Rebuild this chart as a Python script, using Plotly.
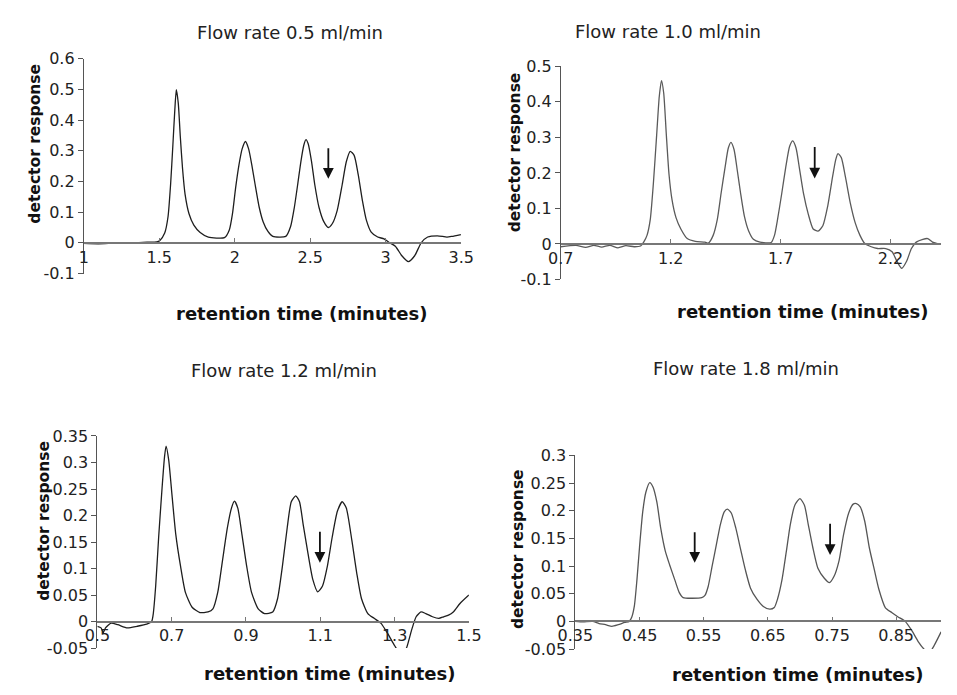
import plotly.graph_objects as go

# ---------------- data ----------------
titles = ["Flow rate 0.5 ml/min", "Flow rate 1.0 ml/min", "Flow rate 1.2 ml/min", "Flow rate 1.8 ml/min"]

t1 = [1.0, 1.098, 1.205, 1.312, 1.419, 1.483, 1.504, 1.536, 1.558, 1.575, 1.590, 1.603, 1.613, 1.626, 1.639,
      1.654, 1.671, 1.697, 1.729, 1.771, 1.825, 1.932, 1.964, 1.985, 2.006, 2.028, 2.049, 2.071, 2.092, 2.113,
      2.135, 2.162, 2.188, 2.220, 2.252, 2.338, 2.370, 2.395, 2.417, 2.438, 2.457, 2.472, 2.487, 2.509, 2.530,
      2.558, 2.590, 2.620, 2.647, 2.679, 2.712, 2.739, 2.765, 2.791, 2.818, 2.846, 2.872, 2.904, 2.947, 2.989,
      3.021, 3.064, 3.107, 3.150, 3.192, 3.235, 3.278, 3.342, 3.406, 3.438, 3.498]
r1 = [-0.002, -0.003, -0.001, 0.0, 0.002, 0.003, 0.008, 0.032, 0.085, 0.19, 0.317, 0.433, 0.499, 0.454, 0.349,
      0.243, 0.158, 0.095, 0.058, 0.034, 0.019, 0.017, 0.042, 0.095, 0.18, 0.254, 0.306, 0.33, 0.306, 0.254,
      0.19, 0.116, 0.069, 0.037, 0.021, 0.021, 0.053, 0.116, 0.19, 0.264, 0.317, 0.336, 0.322, 0.264, 0.19,
      0.116, 0.069, 0.05, 0.063, 0.106, 0.19, 0.264, 0.298, 0.285, 0.222, 0.137, 0.074, 0.035, 0.019, 0.013,
      0.002, -0.011, -0.042, -0.061, -0.042, 0.0, 0.019, 0.023, 0.019, 0.021, 0.027]

t2 = [0.7, 0.769, 0.813, 0.850, 0.886, 0.923, 0.960, 0.996, 1.033, 1.063, 1.077, 1.092, 1.107, 1.121, 1.136,
      1.148, 1.158, 1.168, 1.180, 1.192, 1.206, 1.224, 1.246, 1.275, 1.312, 1.356, 1.371, 1.393, 1.412, 1.429,
      1.447, 1.462, 1.474, 1.488, 1.503, 1.518, 1.535, 1.554, 1.576, 1.606, 1.657, 1.672, 1.686, 1.705, 1.723,
      1.741, 1.755, 1.770, 1.785, 1.804, 1.826, 1.848, 1.870, 1.892, 1.914, 1.936, 1.951, 1.961, 1.976, 1.995,
      2.017, 2.039, 2.061, 2.083, 2.112, 2.141, 2.178, 2.207, 2.229, 2.251, 2.273, 2.295, 2.317, 2.347, 2.369,
      2.391, 2.413, 2.430]
r2 = [-0.008, -0.004, -0.010, -0.004, -0.009, -0.004, -0.011, -0.005, -0.008, -0.006, 0.005, 0.024, 0.069, 0.17,
      0.307, 0.416, 0.46, 0.425, 0.307, 0.197, 0.124, 0.074, 0.042, 0.015, 0.007, 0.005, 0.002, 0.024, 0.069,
      0.142, 0.215, 0.27, 0.286, 0.266, 0.206, 0.142, 0.078, 0.037, 0.013, 0.005, 0.004, 0.024, 0.069, 0.142,
      0.215, 0.275, 0.29, 0.27, 0.215, 0.142, 0.083, 0.042, 0.036, 0.051, 0.106, 0.188, 0.238, 0.254, 0.243,
      0.188, 0.115, 0.060, 0.024, 0.001, -0.008, -0.013, -0.013, -0.022, -0.049, -0.069, -0.049, -0.013, 0.005,
      0.013, 0.015, 0.005, 0.001, -0.001]

t3 = [0.500, 0.510, 0.516, 0.522, 0.537, 0.555, 0.581, 0.607, 0.633, 0.646, 0.650, 0.657, 0.665, 0.674, 0.681,
      0.685, 0.692, 0.701, 0.711, 0.724, 0.737, 0.755, 0.776, 0.798, 0.811, 0.824, 0.837, 0.850, 0.861, 0.869,
      0.878, 0.889, 0.902, 0.915, 0.933, 0.950, 0.972, 0.985, 0.998, 1.011, 1.022, 1.034, 1.044, 1.054, 1.067,
      1.080, 1.093, 1.106, 1.119, 1.132, 1.146, 1.159, 1.170, 1.185, 1.198, 1.211, 1.228, 1.245, 1.263, 1.280,
      1.298, 1.319, 1.332, 1.345, 1.358, 1.371, 1.384, 1.402, 1.419, 1.432, 1.445, 1.458, 1.476, 1.500]
r3 = [-0.009, -0.012, -0.021, -0.012, -0.003, -0.006, -0.012, -0.009, -0.005, 0.0, 0.012, 0.067, 0.159, 0.25,
      0.312, 0.331, 0.305, 0.238, 0.165, 0.104, 0.055, 0.027, 0.017, 0.018, 0.024, 0.055, 0.116, 0.177, 0.214,
      0.227, 0.214, 0.165, 0.104, 0.055, 0.024, 0.015, 0.018, 0.043, 0.104, 0.177, 0.226, 0.237, 0.226, 0.183,
      0.128, 0.079, 0.056, 0.067, 0.104, 0.159, 0.208, 0.226, 0.214, 0.153, 0.092, 0.043, 0.015, 0.006, -0.003,
      -0.021, -0.043, -0.064, -0.05, -0.018, 0.009, 0.018, 0.015, 0.009, 0.006, 0.009, 0.012, 0.018, 0.034, 0.050]

t4 = [0.350, 0.362, 0.377, 0.387, 0.397, 0.407, 0.417, 0.427, 0.434, 0.438, 0.442, 0.446, 0.450, 0.455, 0.460,
      0.466, 0.471, 0.477, 0.483, 0.490, 0.497, 0.505, 0.512, 0.518, 0.547, 0.552, 0.557, 0.563, 0.570, 0.576,
      0.582, 0.587, 0.593, 0.600, 0.608, 0.615, 0.623, 0.633, 0.643, 0.653, 0.660, 0.665, 0.672, 0.679, 0.685,
      0.692, 0.700, 0.707, 0.713, 0.720, 0.728, 0.738, 0.746, 0.753, 0.761, 0.768, 0.776, 0.783, 0.788, 0.794,
      0.801, 0.808, 0.816, 0.823, 0.833, 0.843, 0.853, 0.864, 0.874, 0.884, 0.894, 0.900, 0.906, 0.920]
r4 = [0.0, -0.001, 0.0, -0.004, -0.006, -0.009, -0.006, -0.002, 0.0, 0.008, 0.028, 0.075, 0.134, 0.198, 0.234,
      0.251, 0.243, 0.216, 0.169, 0.128, 0.102, 0.075, 0.052, 0.043, 0.043, 0.047, 0.063, 0.099, 0.14, 0.175,
      0.198, 0.203, 0.196, 0.169, 0.128, 0.093, 0.06, 0.04, 0.027, 0.022, 0.025, 0.04, 0.075, 0.128, 0.175,
      0.21, 0.222, 0.21, 0.175, 0.134, 0.096, 0.078, 0.07, 0.081, 0.11, 0.157, 0.196, 0.212, 0.213, 0.207,
      0.181, 0.134, 0.093, 0.058, 0.025, 0.016, 0.008, 0.0, -0.016, -0.036, -0.051, -0.057, -0.05, -0.019]

xtick_vals = [[1, 1.5, 2, 2.5, 3, 3.5], [0.7, 1.2, 1.7, 2.2], [0.5, 0.7, 0.9, 1.1, 1.3, 1.5],
              [0.35, 0.45, 0.55, 0.65, 0.75, 0.85]]
xtick_text = [["1", "1.5", "2", "2.5", "3", "3.5"], ["0.7", "1.2", "1.7", "2.2"],
              ["0.5", "0.7", "0.9", "1.1", "1.3", "1.5"], ["0.35", "0.45", "0.55", "0.65", "0.75", "0.85"]]
ytick_vals = [[-0.1, 0, 0.1, 0.2, 0.3, 0.4, 0.5, 0.6], [-0.1, 0, 0.1, 0.2, 0.3, 0.4, 0.5],
              [-0.05, 0, 0.05, 0.1, 0.15, 0.2, 0.25, 0.3, 0.35], [-0.05, 0, 0.05, 0.1, 0.15, 0.2, 0.25, 0.3]]
ytick_text = [["-0.1", "0", "0.1", "0.2", "0.3", "0.4", "0.5", "0.6"],
              ["-0.1", "0", "0.1", "0.2", "0.3", "0.4", "0.5"],
              ["-0.05", "0", "0.05", "0.1", "0.15", "0.2", "0.25", "0.3", "0.35"],
              ["-0.05", "0", "0.05", "0.1", "0.15", "0.2", "0.25", "0.3"]]
x_ranges = [[1, 3.5], [0.7, 2.43], [0.5, 1.5], [0.35, 0.92]]
y_ranges = [[-0.1, 0.6], [-0.1, 0.5], [-0.05, 0.35], [-0.05, 0.3]]

# arrows: (tip x, tip y, tail y)
arrows = [[(2.62, 0.209, 0.313)], [(1.855, 0.184, 0.277)], [(1.099, 0.111, 0.172)],
          [(0.536, 0.106, 0.164), (0.747, 0.120, 0.179)]]

series_t = [t1, t2, t3, t4]
series_r = [r1, r2, r3, r4]
line_colors = ["#1e1e1e", "#5a5a5a", "#1e1e1e", "#555555"]

# ---------------- layout geometry (pixels) ----------------
W, H = 957, 695
x_dom_px = [(68, 458), (561, 954), (82, 466), (576, 954)]
y_dom_px = [(51, 272), (59, 278), (439, 657), (459, 658)]
title_pos = [(281, 24), (672, 23), (275, 372), (752, 370)]
xtitle_pos = [(293, 313), (811, 311), (322, 683), (806, 684)]
ytitle_pos = [(18, 138), (514, 147), (26, 526), (517, 555)]

FONT = "DejaVu Sans"
fig = go.Figure()
layout = dict(width=W, height=H, margin=dict(l=0, r=0, t=0, b=0),
              paper_bgcolor="white", plot_bgcolor="white", showlegend=False,
              font=dict(family=FONT, color="#222222"))
annotations = []

for i in range(4):
    sfx = "" if i == 0 else str(i + 1)
    xd = [x_dom_px[i][0] / W, x_dom_px[i][1] / W]
    yd = [1 - y_dom_px[i][1] / H, 1 - y_dom_px[i][0] / H]
    y0, y1 = y_ranges[i]
    zero_pos = yd[0] + (0 - y0) / (y1 - y0) * (yd[1] - yd[0])
    layout["xaxis" + sfx] = dict(domain=xd, range=x_ranges[i], anchor="free", position=zero_pos,
                                 showline=True, linecolor="#777777", linewidth=1.5,
                                 ticks="inside", ticklen=4, tickcolor="#777777",
                                 tickvals=xtick_vals[i], ticktext=xtick_text[i],
                                 showgrid=False, zeroline=False,
                                 tickfont=dict(family=FONT, size=16, color="#222222"))
    layout["yaxis" + sfx] = dict(domain=yd, range=y_ranges[i], anchor="x" + sfx,
                                 showline=True, linecolor="#555555", linewidth=1,
                                 ticks="outside", ticklen=5, tickcolor="#555555",
                                 tickvals=ytick_vals[i], ticktext=ytick_text[i],
                                 showgrid=False, zeroline=False,
                                 tickfont=dict(family=FONT, size=16, color="#222222"))
    fig.add_trace(go.Scatter(x=series_t[i], y=series_r[i], mode="lines",
                             line=dict(color=line_colors[i], width=1.3, shape="spline", smoothing=0.6),
                             xaxis="x" + sfx, yaxis="y" + sfx, hoverinfo="skip"))
    annotations.append(dict(text=titles[i], x=title_pos[i][0] / W, y=1 - title_pos[i][1] / H,
                            xref="paper", yref="paper", showarrow=False, xanchor="center", yanchor="middle",
                            font=dict(family=FONT, size=18, color="#222222")))
    annotations.append(dict(text="<b>retention time (minutes)</b>", x=xtitle_pos[i][0] / W,
                            y=1 - xtitle_pos[i][1] / H, xref="paper", yref="paper", showarrow=False,
                            xanchor="center", yanchor="middle",
                            font=dict(family=FONT, size=18, color="#111111")))
    annotations.append(dict(text="<b>detector response</b>", x=ytitle_pos[i][0] / W,
                            y=1 - ytitle_pos[i][1] / H, xref="paper", yref="paper", showarrow=False,
                            textangle=-90, xanchor="center", yanchor="middle",
                            font=dict(family=FONT, size=15.5, color="#111111")))
    for (ax_, tip_y, tail_y) in arrows[i]:
        annotations.append(dict(x=ax_, y=tip_y, ax=ax_, ay=tail_y, xref="x" + sfx, yref="y" + sfx,
                                axref="x" + sfx, ayref="y" + sfx, text="", showarrow=True,
                                arrowhead=2, arrowsize=1.2, arrowwidth=1.8, arrowcolor="#111111",
                                standoff=0))

layout["annotations"] = annotations
fig.update_layout(**layout)
fig.write_html("out.html")
